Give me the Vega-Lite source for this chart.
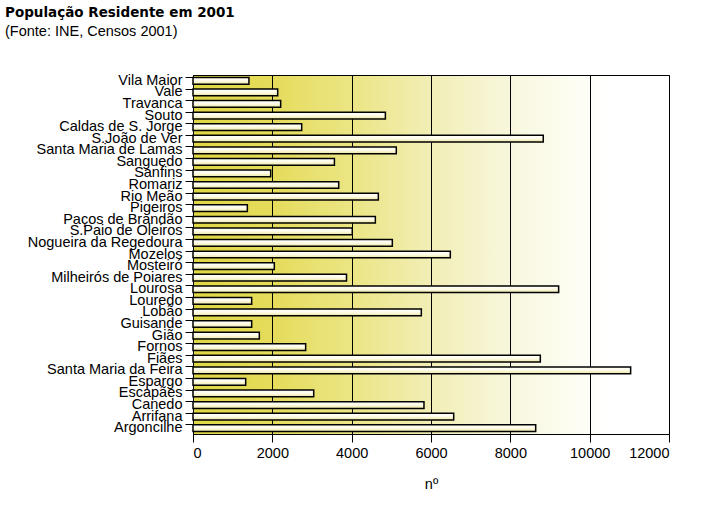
{
  "$schema": "https://vega.github.io/schema/vega-lite/v6.json",
  "autosize": {"type": "none"},
  "width": 476,
  "height": 359,
  "padding": {"left": 193, "top": 75, "right": 32, "bottom": 89},
  "background": "white",
  "title": {
    "text": "População Residente em 2001",
    "subtitle": "(Fonte: INE, Censos 2001)",
    "anchor": "start",
    "frame": "group",
    "dx": -188,
    "offset": 34,
    "font": "DejaVu Sans",
    "fontSize": 13.5,
    "fontWeight": "bold",
    "color": "black",
    "subtitleFont": "Liberation Sans",
    "subtitleFontSize": 14.5,
    "subtitleColor": "black",
    "subtitlePadding": 5
  },
  "config": {
    "view": {
      "stroke": "black",
      "strokeWidth": 1,
      "fill": {
        "gradient": "linear",
        "x1": 0, "y1": 0, "x2": 1, "y2": 0,
        "stops": [
          {"offset": 0, "color": "#e0d744"},
          {"offset": 0.17, "color": "#e5dc5c"},
          {"offset": 0.33, "color": "#ebe584"},
          {"offset": 0.5, "color": "#f2eeb6"},
          {"offset": 0.67, "color": "#f8f7de"},
          {"offset": 0.8, "color": "#fdfdf3"},
          {"offset": 0.88, "color": "#ffffff"},
          {"offset": 1, "color": "#ffffff"}
        ]
      }
    },
    "axis": {
      "labelFont": "Liberation Sans",
      "labelFontSize": 14.5,
      "labelColor": "black",
      "titleFont": "Liberation Sans",
      "titleFontSize": 14.5,
      "titleFontWeight": "normal",
      "titleColor": "black",
      "domainColor": "black",
      "tickColor": "black"
    }
  },
  "data": {
    "values": [
      {"Freguesia": "Vila Maior", "Populacao": 1410},
      {"Freguesia": "Vale", "Populacao": 2135},
      {"Freguesia": "Travanca", "Populacao": 2210},
      {"Freguesia": "Souto", "Populacao": 4850},
      {"Freguesia": "Caldas de S. Jorge", "Populacao": 2740},
      {"Freguesia": "S.João de Ver", "Populacao": 8830},
      {"Freguesia": "Santa Maria de Lamas", "Populacao": 5125},
      {"Freguesia": "Sanguedo", "Populacao": 3565},
      {"Freguesia": "Sanfins", "Populacao": 1958},
      {"Freguesia": "Romariz", "Populacao": 3673},
      {"Freguesia": "Rio Meão", "Populacao": 4672},
      {"Freguesia": "Pigeiros", "Populacao": 1370},
      {"Freguesia": "Paços de Brandão", "Populacao": 4597},
      {"Freguesia": "S.Paio de Oleiros", "Populacao": 4015},
      {"Freguesia": "Nogueira da Regedoura", "Populacao": 5025},
      {"Freguesia": "Mozelos", "Populacao": 6487},
      {"Freguesia": "Mosteiró", "Populacao": 2050},
      {"Freguesia": "Milheirós de Poiares", "Populacao": 3870},
      {"Freguesia": "Lourosa", "Populacao": 9218},
      {"Freguesia": "Louredo", "Populacao": 1479},
      {"Freguesia": "Lobão", "Populacao": 5756},
      {"Freguesia": "Guisande", "Populacao": 1479},
      {"Freguesia": "Gião", "Populacao": 1672},
      {"Freguesia": "Fornos", "Populacao": 2840},
      {"Freguesia": "Fiães", "Populacao": 8756},
      {"Freguesia": "Santa Maria da Feira", "Populacao": 11033},
      {"Freguesia": "Espargo", "Populacao": 1328},
      {"Freguesia": "Escapães", "Populacao": 3043},
      {"Freguesia": "Canedo", "Populacao": 5823},
      {"Freguesia": "Arrifana", "Populacao": 6572},
      {"Freguesia": "Argoncilhe", "Populacao": 8639}
    ]
  },
  "mark": {
    "type": "bar",
    "stroke": "black",
    "strokeWidth": 1.5,
    "color": {
      "gradient": "linear",
      "x1": 0, "y1": 0, "x2": 0, "y2": 1,
      "stops": [
        {"offset": 0, "color": "#ffffff"},
        {"offset": 0.5, "color": "#fdfbe6"},
        {"offset": 1, "color": "#ece5a0"}
      ]
    }
  },
  "encoding": {
    "y": {
      "field": "Freguesia",
      "type": "nominal",
      "sort": null,
      "scale": {"paddingInner": 0.42, "paddingOuter": 0.21},
      "axis": {
        "title": null,
        "bandPosition": 0,
        "tickSize": 8,
        "labelPadding": 3,
        "labelBaseline": "middle",
        "domain": false
      }
    },
    "x": {
      "field": "Populacao",
      "type": "quantitative",
      "title": "nº",
      "scale": {"domain": [0, 12000], "nice": false},
      "axis": {
        "values": [0, 2000, 4000, 6000, 8000, 10000, 12000],
        "format": "d",
        "grid": true,
        "gridColor": "black",
        "gridOpacity": 1,
        "gridWidth": 1,
        "tickSize": 8,
        "labelPadding": 4,
        "titlePadding": 18,
        "domain": false
      }
    }
  }
}
